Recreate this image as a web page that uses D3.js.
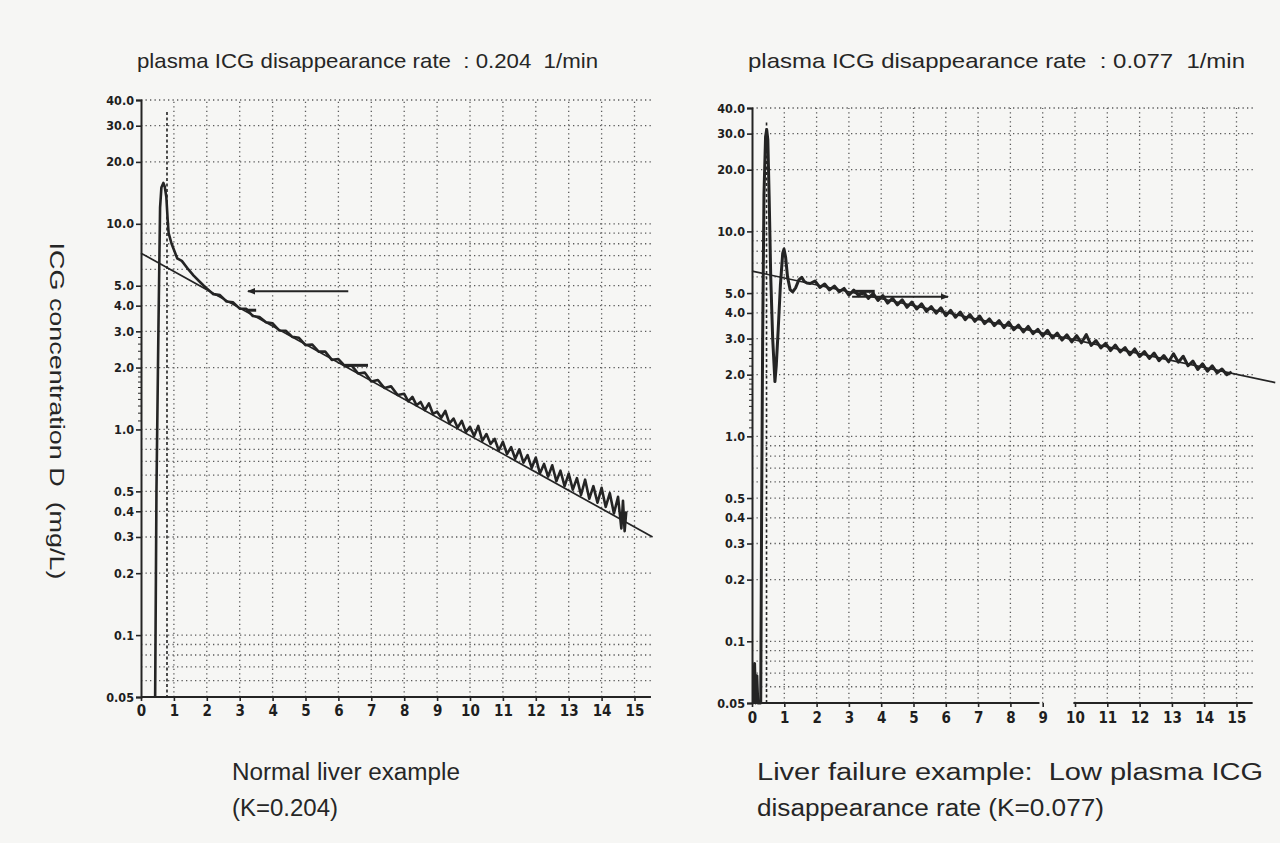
<!DOCTYPE html>
<html><head><meta charset="utf-8">
<script src="https://cdn.jsdelivr.net/npm/d3@7"></script>
<style>
html,body{margin:0;padding:0;background:#f6f6f4;}
svg{display:block;}
</style></head>
<body>
<svg id="chart" width="1280" height="843"></svg>
<script>
// ---------------- DATA ----------------
const xTickValues = [0,1,2,3,4,5,6,7,8,9,10,11,12,13,14,15];
const xTickLabels = ["0","1","2","3","4","5","6","7","8","9","10","11","12","13","14","15"];
const yTickValues = [40,30,20,10,5,4,3,2,1,0.5,0.4,0.3,0.2,0.1,0.05];
const yTickLabels = ["40.0","30.0","20.0","10.0","5.0","4.0","3.0","2.0","1.0","0.5","0.4","0.3","0.2","0.1","0.05"];
const yGridValues = [40,30,20,10,9,8,7,6,5,4,3,2,1,0.9,0.8,0.7,0.6,0.5,0.4,0.3,0.2,0.1,0.09,0.08,0.07,0.06];
const yMinorTicks = [1.1,1.2,1.3,1.4,1.5,1.6,1.7,1.8,1.9,2.2,2.4,2.6,2.8];
const xGridValues = [1,2,3,4,5,6,7,8,9,10,11,12,13,14,15];

const leftTitle = "plasma ICG disappearance rate  : 0.204  1/min";
const rightTitle = "plasma ICG disappearance rate  : 0.077  1/min";
const yLabel = "ICG concentration D  (mg/L)";
const leftCaption = ["Normal liver example", "(K=0.204)"];
const rightCaption = ["Liver failure example:  Low plasma ICG", "disappearance rate (K=0.077)"];

// fitted mono-exponential lines: [t, concentration] end points
const leftFit = [[0, 7.2], [15.55, 0.30]];
const rightFit = [[0, 6.4], [16.2, 1.83]];

// injection marker time (dashed vertical) and its top value
const leftInjection = [0.79, 35];
const rightInjection = [0.45, 34];

// horizontal arrows: [t start, t end, concentration]
const leftArrow = [3.25, 6.3, 4.7];
const rightArrow = [3.1, 6.07, 4.8];

// short marker bars on the curve: [t start, t end, concentration]
const leftMarks = [[3.2, 3.5, 3.8], [6.2, 6.9, 2.05]];
const rightMarks = [[3.2, 3.8, 5.1]];

// measured dye curves [t (min), concentration (mg/L)]
const leftTrace = [
[0.43,0.05],[0.47,0.5],[0.53,3.1],[0.58,12],[0.62,15],[0.68,15.8],[0.72,15.2],[0.77,13.5],[0.81,10.5],[0.84,9.0],
[0.93,8.0],[1.1,6.8],[1.24,6.6],[1.44,6.0],[1.6,5.6],[1.8,5.2],
[2.0,4.84],[2.2,4.55],[2.4,4.50],[2.6,4.19],[2.8,4.15],[3.0,3.87],[3.2,3.86],[3.4,3.56],[3.6,3.52],[3.8,3.32],
[4.0,3.28],[4.2,3.03],[4.4,3.02],[4.6,2.82],[4.8,2.79],[5.0,2.57],[5.2,2.59],[5.4,2.39],[5.6,2.39],[5.8,2.18],
[6.0,2.20],[6.2,2.03],[6.4,2.05],[6.6,1.87],[6.8,1.89],[7.0,1.71],[7.2,1.74],[7.4,1.59],[7.6,1.62],[7.8,1.47],
[8.0,1.49],[8.125,1.37],[8.25,1.44],[8.375,1.31],[8.5,1.36],[8.625,1.24],[8.75,1.34],[8.875,1.19],[9.0,1.22],
[9.125,1.14],[9.25,1.23],[9.375,1.07],[9.5,1.13],[9.625,1.02],[9.75,1.10],[9.875,0.97],[10.0,1.03],
[10.125,0.93],[10.25,1.04],[10.375,0.88],[10.5,0.95],[10.625,0.85],[10.75,0.90],[10.875,0.79],[11.0,0.87],
[11.125,0.76],[11.25,0.82],[11.375,0.72],[11.5,0.80],[11.625,0.69],[11.75,0.75],[11.875,0.65],[12.0,0.73],
[12.125,0.61],[12.25,0.68],[12.375,0.59],[12.5,0.67],[12.625,0.56],[12.75,0.63],[12.875,0.53],[13.0,0.61],
[13.125,0.51],[13.25,0.58],[13.375,0.48],[13.5,0.57],[13.625,0.46],[13.75,0.53],[13.875,0.44],[14.0,0.52],
[14.125,0.42],[14.25,0.49],[14.375,0.39],[14.5,0.47],[14.6,0.33],[14.65,0.45],[14.7,0.32],[14.75,0.40]
];

const rightTrace = [
[0.05,0.05],[0.08,0.078],[0.11,0.05],[0.15,0.068],[0.18,0.05],[0.27,0.05],[0.3,0.5],[0.33,3],[0.37,15],[0.42,29],
[0.455,31.4],[0.49,28],[0.53,15],[0.58,6],[0.64,3],[0.71,1.85],[0.75,2.2],[0.81,3.3],[0.88,5.5],[0.95,7.8],
[0.99,8.2],[1.04,7.5],[1.1,6.0],[1.18,5.2],[1.26,5.07],[1.35,5.3],[1.45,5.8],[1.54,5.97],[1.62,5.7],[1.7,5.6],
[1.80,5.57],[1.95,5.73],[2.10,5.33],[2.25,5.54],[2.40,5.18],[2.55,5.41],[2.70,5.08],[2.85,5.27],[3.00,4.88],
[3.15,5.17],[3.30,4.86],[3.45,5.09],[3.60,4.71],[3.75,4.98],[3.90,4.60],[4.05,4.86],[4.20,4.47],[4.35,4.72],
[4.50,4.38],[4.65,4.64],[4.80,4.26],[4.95,4.52],[5.10,4.18],[5.25,4.43],[5.40,4.07],[5.55,4.30],[5.70,3.99],
[5.85,4.24],[6.00,3.88],[6.15,4.12],[6.30,3.81],[6.45,4.04],[6.60,3.71],[6.75,3.93],[6.90,3.64],[7.05,3.86],
[7.20,3.55],[7.35,3.74],[7.50,3.47],[7.65,3.67],[7.80,3.39],[7.95,3.61],[8.10,3.31],[8.25,3.49],[8.40,3.23],
[8.55,3.44],[8.70,3.17],[8.85,3.33],[9.00,3.09],[9.15,3.29],[9.30,3.02],[9.45,3.19],[9.60,2.95],[9.75,3.13],
[9.90,2.89],[10.05,3.10],[10.20,2.86],[10.35,3.14],[10.50,2.78],[10.65,2.93],[10.80,2.70],[10.95,2.84],
[11.10,2.62],[11.25,2.79],[11.40,2.58],[11.55,2.71],[11.70,2.50],[11.85,2.67],[12.00,2.45],[12.15,2.59],
[12.30,2.40],[12.45,2.55],[12.60,2.34],[12.75,2.48],[12.90,2.31],[13.05,2.53],[13.20,2.30],[13.35,2.46],
[13.50,2.21],[13.65,2.33],[13.80,2.12],[13.95,2.26],[14.10,2.08],[14.25,2.21],[14.40,2.04],[14.55,2.13],
[14.70,2.00],[14.85,2.06]
];

// right x-axis line is printed in two pieces: [t start, t end]
const leftAxisSegments = [[0, 15.5]];
const rightAxisSegments = [[0, 8.9], [9.95, 15.5]];

// ---------------- DRAWING ----------------
const svg = d3.select("#chart");
const INK = "#242424";
const GRID = "#5a5a5a";

const defs = svg.append("defs");
defs.append("marker").attr("id","ah").attr("viewBox","0 0 10 10").attr("refX",9).attr("refY",5)
  .attr("markerWidth",8).attr("markerHeight",8).attr("markerUnits","userSpaceOnUse").attr("orient","auto-start-reverse")
  .append("path").attr("d","M0,1 L10,5 L0,9 Z").attr("fill",INK);

function panel(cfg) {
  const x = d3.scaleLinear().domain([0, cfg.xMax]).range([cfg.left, cfg.left + cfg.xMax * cfg.pxPerMin]);
  const y = d3.scaleLog().domain([0.05, 40]).range([cfg.bottom, cfg.top]);
  const g = svg.append("g");

  // dotted grid
  g.append("g").selectAll("line").data(yGridValues).join("line")
    .attr("x1", x(0)).attr("x2", x(cfg.gridEnd))
    .attr("y1", d => y(d)).attr("y2", d => y(d))
    .attr("stroke", GRID).attr("stroke-width", 1.3).attr("stroke-dasharray", "1.3,3.2");
  g.append("g").selectAll("line").data(xGridValues).join("line")
    .attr("x1", d => x(d)).attr("x2", d => x(d))
    .attr("y1", y(0.05)).attr("y2", y(40))
    .attr("stroke", GRID).attr("stroke-width", 1.3).attr("stroke-dasharray", "1.3,3.2");

  // y axis
  const yAxis = d3.axisLeft(y).tickValues(yTickValues)
    .tickFormat(d => yTickLabels[yTickValues.indexOf(d)]).tickSize(5).tickPadding(2);
  const ya = g.append("g").attr("transform", `translate(${x(0)},0)`).call(yAxis);
  ya.select(".domain").attr("stroke", INK).attr("stroke-width", 2);
  ya.selectAll(".tick line").attr("stroke", INK).attr("stroke-width", 1.6);
  ya.selectAll(".tick text").attr("fill", "#1e1e1e")
    .style("font-family", "'DejaVu Sans Condensed','DejaVu Sans',sans-serif").style("font-weight", "bold").style("font-size", "12.5px");
  g.append("g").selectAll("line").data(yMinorTicks).join("line")
    .attr("x1", x(0) - 3).attr("x2", x(0)).attr("y1", d => y(d)).attr("y2", d => y(d))
    .attr("stroke", INK).attr("stroke-width", 1);

  // x axis
  const xAxis = d3.axisBottom(x).tickValues(xTickValues)
    .tickFormat(d => xTickLabels[xTickValues.indexOf(d)]).tickSize(4).tickPadding(cfg.xPad);
  const xa = g.append("g").attr("transform", `translate(0,${y(0.05)})`).call(xAxis);
  xa.select(".domain").remove();
  xa.selectAll(".tick line").attr("stroke", INK).attr("stroke-width", 1.6);
  xa.selectAll(".tick text").attr("fill", "#1e1e1e")
    .style("font-family", "'DejaVu Sans Condensed','DejaVu Sans',sans-serif").style("font-weight", "bold").style("font-size", "15px");
  g.append("g").selectAll("line").data(cfg.axisSegments).join("line")
    .attr("x1", d => x(d[0])).attr("x2", d => x(d[1]))
    .attr("y1", y(0.05)).attr("y2", y(0.05))
    .attr("stroke", INK).attr("stroke-width", 2.2);

  // injection dashed line
  g.append("line").attr("x1", x(cfg.injection[0])).attr("x2", x(cfg.injection[0]))
    .attr("y1", y(cfg.injection[1])).attr("y2", y(0.05))
    .attr("stroke", INK).attr("stroke-width", 1.6).attr("stroke-dasharray", "3,2.5");

  // fitted line
  const line = d3.line().x(d => x(d[0])).y(d => y(d[1]));
  g.append("path").datum(cfg.fit).attr("d", line)
    .attr("fill", "none").attr("stroke", INK).attr("stroke-width", 1.7);

  // measured trace
  g.append("path").datum(cfg.trace).attr("d", line)
    .attr("fill", "none").attr("stroke", INK).attr("stroke-width", cfg.traceW).attr("stroke-linejoin", "round");

  // marker bars
  g.append("g").selectAll("line").data(cfg.marks).join("line")
    .attr("x1", d => x(d[0])).attr("x2", d => x(d[1]))
    .attr("y1", d => y(d[2])).attr("y2", d => y(d[2]))
    .attr("stroke", INK).attr("stroke-width", 3);

  // arrow
  const a = cfg.arrow;
  const arr = g.append("line")
    .attr("x1", x(a[0])).attr("x2", x(a[1])).attr("y1", y(a[2])).attr("y2", y(a[2]))
    .attr("stroke", INK).attr("stroke-width", 1.8);
  if (cfg.arrowDir === "left") arr.attr("marker-start", "url(#ah)");
  else arr.attr("marker-end", "url(#ah)");

  // title
  svg.append("text").attr("x", cfg.titleX).attr("y", 68)
    .attr("textLength", cfg.titleW).attr("lengthAdjust", "spacingAndGlyphs")
    .style("font-family", "'Liberation Sans',Arial,sans-serif").style("font-size", "21px").attr("fill", "#262626")
    .style("white-space", "pre").text(cfg.title);

  // caption
  svg.append("g").selectAll("text").data(cfg.caption).join("text")
    .attr("x", cfg.capX).attr("y", (d, i) => 780 + i * 36)
    .attr("textLength", (d, i) => cfg.capW[i]).attr("lengthAdjust", "spacingAndGlyphs")
    .style("font-family", "'Liberation Sans',Arial,sans-serif").style("font-size", "23px").attr("fill", "#262626")
    .style("white-space", "pre").text(d => d);
}

panel({
  left: 141, pxPerMin: 32.9, xMax: 15.55, top: 100, bottom: 697, gridEnd: 15.5, xPad: 4, traceW: 2.6,
  axisSegments: leftAxisSegments, injection: leftInjection, fit: leftFit, trace: leftTrace,
  marks: leftMarks, arrow: leftArrow, arrowDir: "left",
  title: leftTitle, titleX: 137, titleW: 461,
  caption: leftCaption, capX: 232, capW: [228, 106]
});
panel({
  left: 752, pxPerMin: 32.3, xMax: 16.2, top: 108, bottom: 703, gridEnd: 15.6, xPad: 5, traceW: 3,
  axisSegments: rightAxisSegments, injection: rightInjection, fit: rightFit, trace: rightTrace,
  marks: rightMarks, arrow: rightArrow, arrowDir: "right",
  title: rightTitle, titleX: 748, titleW: 497,
  caption: rightCaption, capX: 757, capW: [506, 347]
});

// y-axis label (reads top to bottom)
svg.append("text").attr("transform", "translate(50,411) rotate(90)")
  .attr("text-anchor", "middle").attr("textLength", 337).attr("lengthAdjust", "spacingAndGlyphs")
  .style("font-family", "'Liberation Sans',Arial,sans-serif").style("font-size", "20px").attr("fill", "#262626")
  .style("white-space", "pre").text(yLabel);
</script>
</body></html>
